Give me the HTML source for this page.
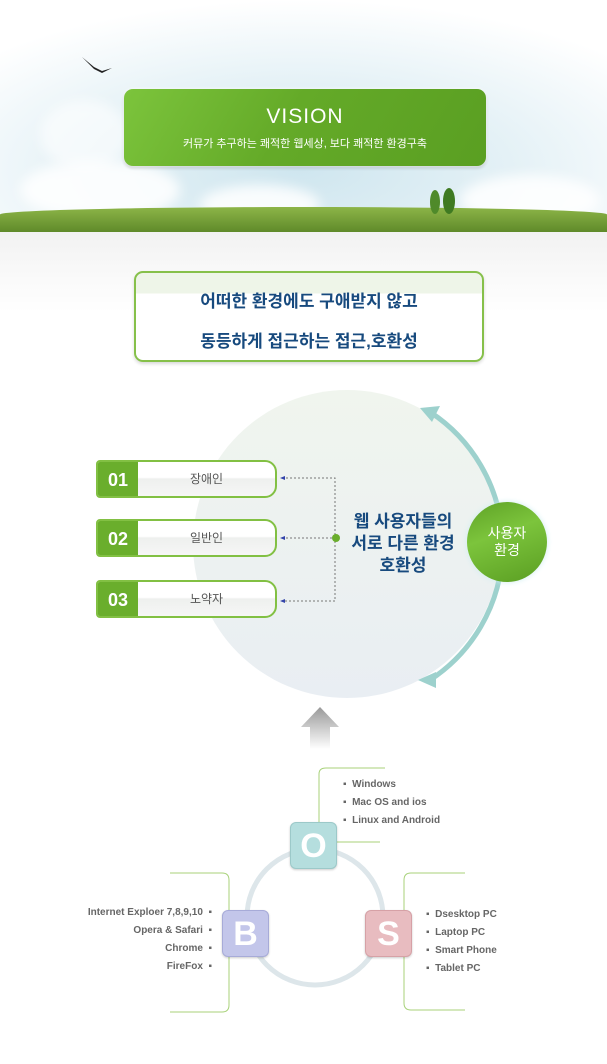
<!DOCTYPE html><html><head><meta charset="utf-8"><style>
*{margin:0;padding:0;box-sizing:border-box}
body{width:607px;height:1064px;position:relative;background:#fff;font-family:"Liberation Sans","Noto Sans CJK KR",sans-serif;overflow:hidden}
.a{position:absolute}
.sky{left:0;top:0;width:607px;height:232px;background:radial-gradient(ellipse 420px 170px at 300px 170px,#cfe6ef 0%,#e4f1f6 50%,#fff 100%)}
.cl{border-radius:50%;background:rgba(255,255,255,.85);filter:blur(6px)}
.grass{left:0;top:207px;width:607px;height:25px;background:linear-gradient(#8db548,#5f8a2a);border-radius:50% 50% 0 0/30% 30% 0 0}
.vis{left:124px;top:89px;width:362px;height:77px;border-radius:9px;background:linear-gradient(120deg,#7cc43c 0%,#64aa28 45%,#5a9f22 100%);box-shadow:0 0 3px #fff,0 2px 3px rgba(0,0,0,.2);color:#fff;text-align:center}
.b2{left:134px;top:271px;width:350px;height:91px;border:2px solid #86c04a;border-radius:9px;background:linear-gradient(#eef5e8 0,#eef5e8 20px,#fff 21px);text-align:center;color:#174a7e;font-weight:bold;font-size:17px;box-shadow:0 2px 3px rgba(0,0,0,.15)}
.nb{left:96px;width:181px;height:38px;border:2px solid #82c043;border-radius:4px 12px 12px 4px;background:linear-gradient(#fff 0,#fff 45%,#eef0ee 50%,#f6f6f6 100%);overflow:hidden}
.nb .n{position:absolute;left:0;top:0;width:40px;height:36px;background:#6aae2c;color:#fff;font-size:18px;font-weight:bold;line-height:36px;text-align:center}
.nb .t{position:absolute;left:40px;right:0;top:0;line-height:34px;text-align:center;font-size:12px;color:#555}
.sq{width:47px;height:47px;border-radius:6px;color:#fff;font-size:34px;font-weight:bold;text-align:center;line-height:47px;box-shadow:0 1px 2px rgba(0,0,0,.2)}
.li{font-size:10px;font-weight:bold;color:#666;line-height:18px}
</style></head><body>
<div class="a sky"></div>
<div class="a cl" style="left:20px;top:160px;width:160px;height:60px"></div>
<div class="a cl" style="left:200px;top:185px;width:120px;height:40px"></div>
<div class="a cl" style="left:460px;top:175px;width:140px;height:50px"></div>
<div class="a cl" style="left:40px;top:100px;width:90px;height:70px;background:rgba(255,255,255,.6)"></div>
<div class="a grass"></div>
<div class="a" style="left:430px;top:190px;width:10px;height:24px;border-radius:50%;background:#4f8a2a"></div>
<div class="a" style="left:443px;top:188px;width:12px;height:26px;border-radius:50%;background:#3f7a22"></div>
<div class="a" style="left:0;top:232px;width:607px;height:80px;background:linear-gradient(#f2f2f2,#fff)"></div>
<svg class="a" style="left:80px;top:55px" width="36" height="25"><path d="M2 2 L14 14 L22 18 L32 13 L22 16 L14 12 Z" fill="#222"/></svg>
<div class="a vis"><div style="font-size:21px;margin-top:16px;letter-spacing:1px">VISION</div><div style="font-size:11px;margin-top:6px">커뮤가 추구하는 쾌적한 웹세상, 보다 쾌적한 환경구축</div></div>
<div class="a b2"><div style="margin-top:14px">어떠한 환경에도 구애받지 않고</div><div style="margin-top:15px">동등하게 접근하는 접근,호환성</div></div>
<div class="a" style="left:193px;top:390px;width:308px;height:308px;border-radius:50%;background:linear-gradient(#f0f5ee,#e9eef3)"></div>
<svg class="a" style="left:0;top:380px" width="607" height="330">
<path d="M430 32 A160 160 0 0 1 430 300" fill="none" stroke="#9dd1cd" stroke-width="5"/>
<polygon points="420,28 440,26 432,42" fill="#9dd1cd"/>
<polygon points="418,300 436,292 436,308" fill="#9dd1cd"/>
<g stroke="#777" stroke-dasharray="2,2" fill="none"><path d="M282 98 H335 V221 H282 M282 158 H335"/></g>
<g fill="#3344aa"><polygon points="280,98 285,96 285,100"/><polygon points="280,158 285,156 285,160"/><polygon points="280,221 285,219 285,223"/></g>
<circle cx="336" cy="158" r="4" fill="#6aae2c"/>
</svg>
<div class="a nb" style="top:460px"><div class="n">01</div><div class="t">장애인</div></div>
<div class="a nb" style="top:519px"><div class="n">02</div><div class="t">일반인</div></div>
<div class="a nb" style="top:580px"><div class="n">03</div><div class="t">노약자</div></div>
<div class="a" style="left:343px;top:511px;width:120px;text-align:center;color:#174a7e;font-weight:bold;font-size:17px;line-height:22px">웹 사용자들의<br>서로 다른 환경<br>호환성</div>
<div class="a" style="left:467px;top:502px;width:80px;height:80px;border-radius:50%;background:linear-gradient(160deg,#5ea226,#7cc43c 40%,#5a9e22);box-shadow:0 0 6px #cfeef0;color:#fff;text-align:center;font-size:14px;line-height:17px;padding-top:23px">사용자<br>환경</div>
<svg class="a" style="left:300px;top:705px" width="40" height="45"><defs><linearGradient id="g" x1="0" y1="0" x2="0" y2="1"><stop offset="0" stop-color="#999"/><stop offset="1" stop-color="#fff"/></linearGradient></defs><polygon points="20,2 39,22 30,22 30,44 10,44 10,22 1,22" fill="url(#g)"/></svg>
<svg class="a" style="left:0;top:760px" width="607" height="300">
<circle cx="315" cy="157" r="68" fill="none" stroke="#dde6ea" stroke-width="5"/>
<g fill="none" stroke="#a8d27a" stroke-width="1">
<path d="M319 62 V14 Q319 8 326 8 H385"/><path d="M337 82 H380"/>
<path d="M170 113 H222 Q229 113 229 120 V245 Q229 252 222 252 H170"/>
<path d="M465 113 H411 Q404 113 404 120 V243 Q404 250 411 250 H465"/></g>
</svg>
<div class="a sq" style="left:290px;top:822px;background:#b5dede;border:1px solid #9cc9c9">O</div>
<div class="a sq" style="left:222px;top:910px;background:#c3c6ea;border:1px solid #a7abd8">B</div>
<div class="a sq" style="left:365px;top:910px;background:#e8bcc0;border:1px solid #d6a1a6">S</div>
<div class="a li" style="left:343px;top:776px">▪&nbsp; Windows<br>▪&nbsp; Mac OS and ios<br>▪&nbsp; Linux and Android</div>
<div class="a li" style="left:60px;top:904px;width:152px;text-align:right">Internet Exploer 7,8,9,10 &nbsp;▪<br>Opera &amp; Safari &nbsp;▪<br>Chrome &nbsp;▪<br>FireFox &nbsp;▪</div>
<div class="a li" style="left:426px;top:906px">▪&nbsp; Dsesktop PC<br>▪&nbsp; Laptop PC<br>▪&nbsp; Smart Phone<br>▪&nbsp; Tablet PC</div>
</body></html>
